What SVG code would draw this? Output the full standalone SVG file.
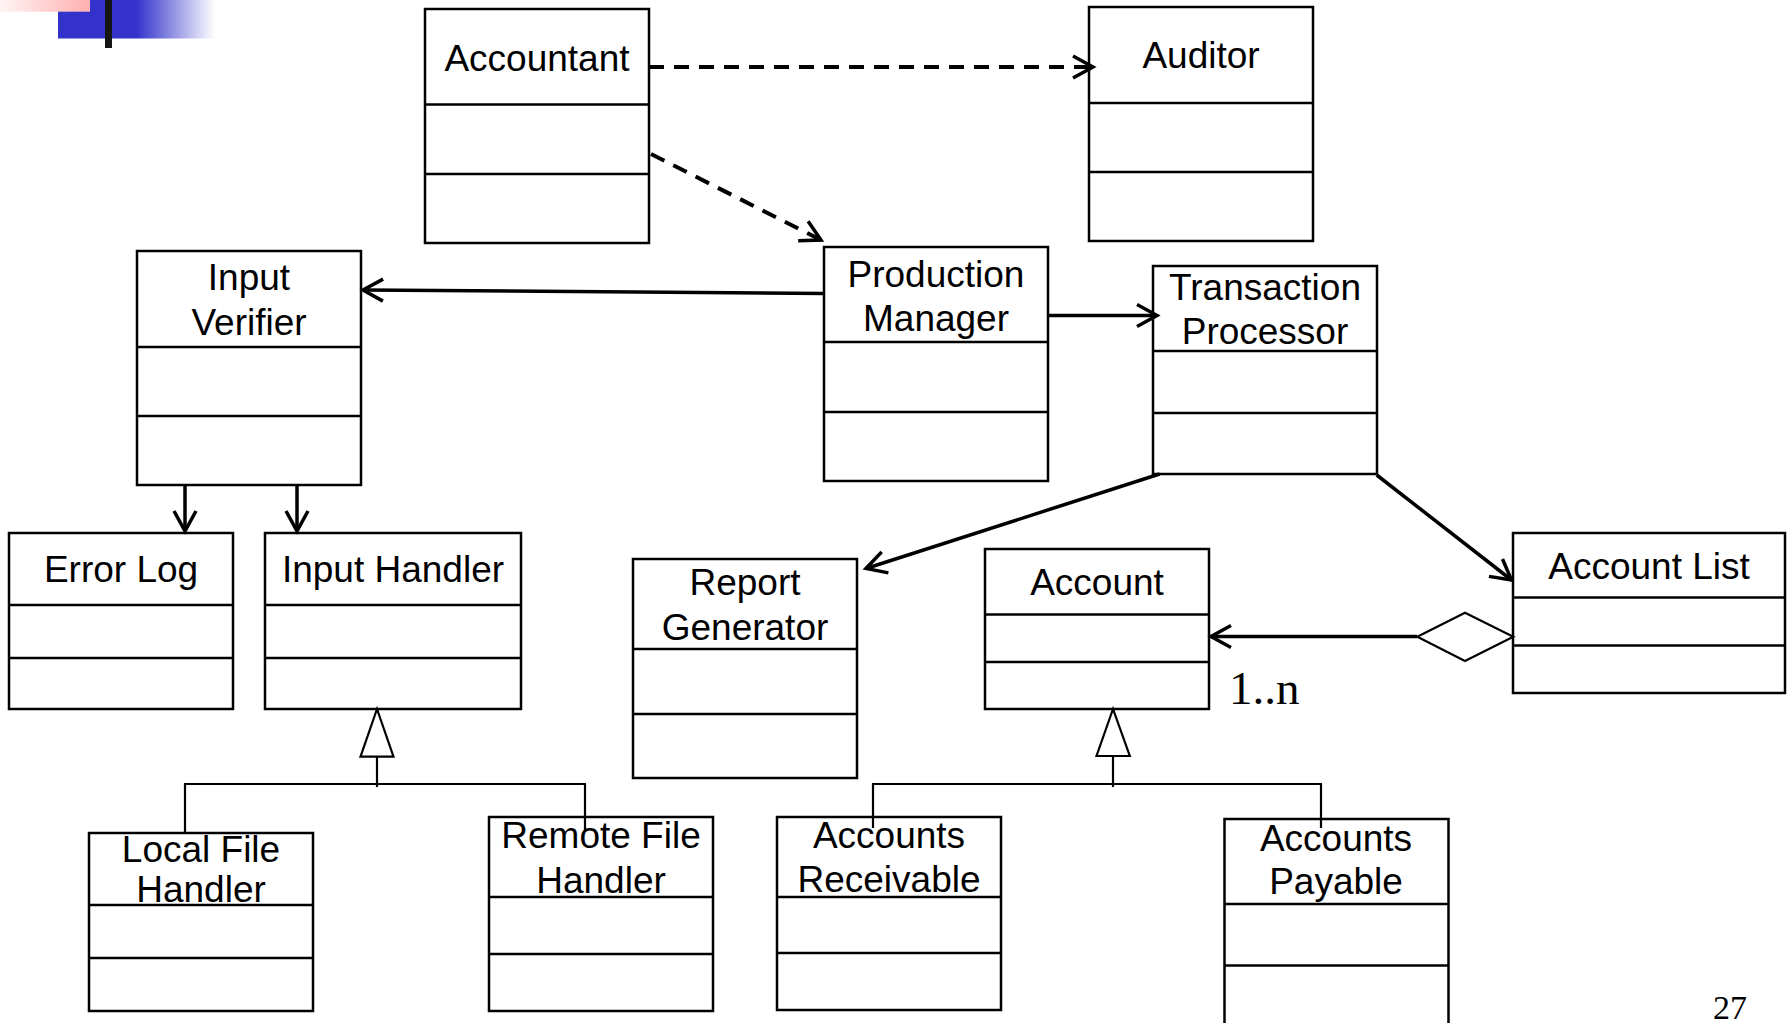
<svg xmlns="http://www.w3.org/2000/svg" width="1788" height="1023" viewBox="0 0 1788 1023">
  <defs>
    <style>
      .box { fill: #fff; stroke: #000; stroke-width: 2.5; }
      .sep { stroke: #000; stroke-width: 2.5; }
      .lbl { font-family: "Liberation Sans", Arial, sans-serif; font-size: 37px; text-anchor: middle; fill: #000; }
      .note { font-family: "Liberation Serif", "Times New Roman", serif; fill: #000; }
      .dep { fill: none; stroke: #000; stroke-width: 4; stroke-dasharray: 15 10; marker-end: url(#open); }
      .assoc { fill: none; stroke: #000; stroke-width: 3.5; marker-end: url(#open); }
      .gen { fill: none; stroke: #000; stroke-width: 2.2; }
      .hollow { fill: #fff; stroke: #000; stroke-width: 2.2; }
    </style>
    <marker id="open" markerUnits="userSpaceOnUse" markerWidth="32" markerHeight="32" viewBox="-24 -16 32 32" refX="0" refY="0" orient="auto" overflow="visible">
      <path d="M-20,-11 L0,0 L-20,11" fill="none" stroke="#000" stroke-width="3.5" stroke-dasharray="none"/>
    </marker>
    <linearGradient id="pinkFade" x1="0" y1="0" x2="1" y2="0">
      <stop offset="0" stop-color="#fff4f4"/>
      <stop offset="1" stop-color="#ffb0b0"/>
    </linearGradient>
    <linearGradient id="blueFade" x1="0" y1="0" x2="1" y2="0">
      <stop offset="0" stop-color="#3333cc"/>
      <stop offset="0.5" stop-color="#3333cc"/>
      <stop offset="1" stop-color="#ffffff"/>
    </linearGradient>
  </defs>

  <rect width="1788" height="1023" fill="#fff"/>

  <!-- corner ornament -->
  <g id="ornament">
    <rect x="58" y="0" width="157" height="38.5" fill="url(#blueFade)"/>
    <rect x="0" y="0" width="90" height="11.7" fill="url(#pinkFade)"/>
    <rect x="105" y="0" width="7" height="48" fill="#151515"/>
  </g>

  <g id="nodes">
    <g id="accountant">
      <rect class="box" x="425" y="9" width="224" height="234"/>
      <line class="sep" x1="425" y1="104.5" x2="649" y2="104.5"/>
      <line class="sep" x1="425" y1="174" x2="649" y2="174"/>
      <text class="lbl" x="537" y="71">Accountant</text>
    </g>
    <g id="auditor">
      <rect class="box" x="1089" y="7" width="224" height="234"/>
      <line class="sep" x1="1089" y1="103" x2="1313" y2="103"/>
      <line class="sep" x1="1089" y1="172" x2="1313" y2="172"/>
      <text class="lbl" x="1201" y="68">Auditor</text>
    </g>
    <g id="input-verifier">
      <rect class="box" x="137" y="251" width="224" height="234"/>
      <line class="sep" x1="137" y1="347" x2="361" y2="347"/>
      <line class="sep" x1="137" y1="416" x2="361" y2="416"/>
      <text class="lbl" x="249" y="290">Input</text>
      <text class="lbl" x="249" y="335">Verifier</text>
    </g>
    <g id="production-manager">
      <rect class="box" x="824" y="247" width="224" height="234"/>
      <line class="sep" x1="824" y1="342" x2="1048" y2="342"/>
      <line class="sep" x1="824" y1="412" x2="1048" y2="412"/>
      <text class="lbl" x="936" y="287">Production</text>
      <text class="lbl" x="936" y="331">Manager</text>
    </g>
    <g id="transaction-processor">
      <rect class="box" x="1153" y="266" width="224" height="208"/>
      <line class="sep" x1="1153" y1="351" x2="1377" y2="351"/>
      <line class="sep" x1="1153" y1="413" x2="1377" y2="413"/>
      <text class="lbl" x="1265" y="300">Transaction</text>
      <text class="lbl" x="1265" y="344">Processor</text>
    </g>
    <g id="error-log">
      <rect class="box" x="9" y="533" width="224" height="176"/>
      <line class="sep" x1="9" y1="605" x2="233" y2="605"/>
      <line class="sep" x1="9" y1="658" x2="233" y2="658"/>
      <text class="lbl" x="121" y="582">Error Log</text>
    </g>
    <g id="input-handler">
      <rect class="box" x="265" y="533" width="256" height="176"/>
      <line class="sep" x1="265" y1="605" x2="521" y2="605"/>
      <line class="sep" x1="265" y1="658" x2="521" y2="658"/>
      <text class="lbl" x="393" y="582">Input Handler</text>
    </g>
    <g id="report-generator">
      <rect class="box" x="633" y="559" width="224" height="219"/>
      <line class="sep" x1="633" y1="649" x2="857" y2="649"/>
      <line class="sep" x1="633" y1="714" x2="857" y2="714"/>
      <text class="lbl" x="745" y="595">Report</text>
      <text class="lbl" x="745" y="640">Generator</text>
    </g>
    <g id="account">
      <rect class="box" x="985" y="549" width="224" height="160"/>
      <line class="sep" x1="985" y1="614.5" x2="1209" y2="614.5"/>
      <line class="sep" x1="985" y1="662" x2="1209" y2="662"/>
      <text class="lbl" x="1097" y="595">Account</text>
    </g>
    <g id="account-list">
      <rect class="box" x="1513" y="533" width="272" height="160"/>
      <line class="sep" x1="1513" y1="597.5" x2="1785" y2="597.5"/>
      <line class="sep" x1="1513" y1="645.5" x2="1785" y2="645.5"/>
      <text class="lbl" x="1649" y="579">Account List</text>
    </g>
    <g id="local-file-handler">
      <rect class="box" x="89" y="833" width="224" height="178"/>
      <line class="sep" x1="89" y1="905" x2="313" y2="905"/>
      <line class="sep" x1="89" y1="958" x2="313" y2="958"/>
      <text class="lbl" x="201" y="862">Local File</text>
      <text class="lbl" x="201" y="902">Handler</text>
    </g>
    <g id="remote-file-handler">
      <rect class="box" x="489" y="817" width="224" height="194"/>
      <line class="sep" x1="489" y1="897" x2="713" y2="897"/>
      <line class="sep" x1="489" y1="954" x2="713" y2="954"/>
      <text class="lbl" x="601" y="848">Remote File</text>
      <text class="lbl" x="601" y="893">Handler</text>
    </g>
    <g id="accounts-receivable">
      <rect class="box" x="777" y="817" width="224" height="193"/>
      <line class="sep" x1="777" y1="897" x2="1001" y2="897"/>
      <line class="sep" x1="777" y1="953" x2="1001" y2="953"/>
      <text class="lbl" x="889" y="848">Accounts</text>
      <text class="lbl" x="889" y="892">Receivable</text>
    </g>
    <g id="accounts-payable">
      <rect class="box" x="1224.5" y="819" width="224" height="215"/>
      <line class="sep" x1="1224.5" y1="904" x2="1448.5" y2="904"/>
      <line class="sep" x1="1224.5" y1="965.5" x2="1448.5" y2="965.5"/>
      <text class="lbl" x="1336" y="851">Accounts</text>
      <text class="lbl" x="1336" y="894">Payable</text>
    </g>
  </g>

  <g id="connectors">
    <!-- dependencies -->
    <path class="dep" d="M649,67 L1093,67"/>
    <path class="dep" d="M651,154 L821,240"/>
    <!-- navigable associations -->
    <path class="assoc" d="M824,293.5 L363,290"/>
    <path class="assoc" d="M1048,315.5 L1157,315.5"/>
    <path class="assoc" d="M185,485 L185,531"/>
    <path class="assoc" d="M297,485 L297,531"/>
    <path class="assoc" d="M1159.6,474 L866,568.5"/>
    <path class="assoc" d="M1376.7,475 L1511.5,580"/>
    <!-- aggregation: Account List holds Accounts -->
    <path class="assoc" d="M1417,636.5 L1211,636.5"/>
    <polygon class="hollow" points="1417.3,636.7 1465,612.7 1513.3,636.7 1465,661"/>
    <text class="note" x="1229" y="704" font-size="47">1..n</text>
    <!-- generalization: file handlers -->
    <polygon class="hollow" points="377,709 360.5,756.7 393.5,756.7"/>
    <path class="gen" d="M377,756.7 V787 M184,784 H586 M185,784 V833 M585,784 V832"/>
    <!-- generalization: account kinds -->
    <polygon class="hollow" points="1113,709 1096.5,756 1129.8,756"/>
    <path class="gen" d="M1113,756 V787 M872,784 H1322 M873,784 V828 M1321,784 V828"/>
  </g>

  <!-- page number -->
  <text class="note" x="1713" y="1019" font-size="34">27</text>
</svg>
